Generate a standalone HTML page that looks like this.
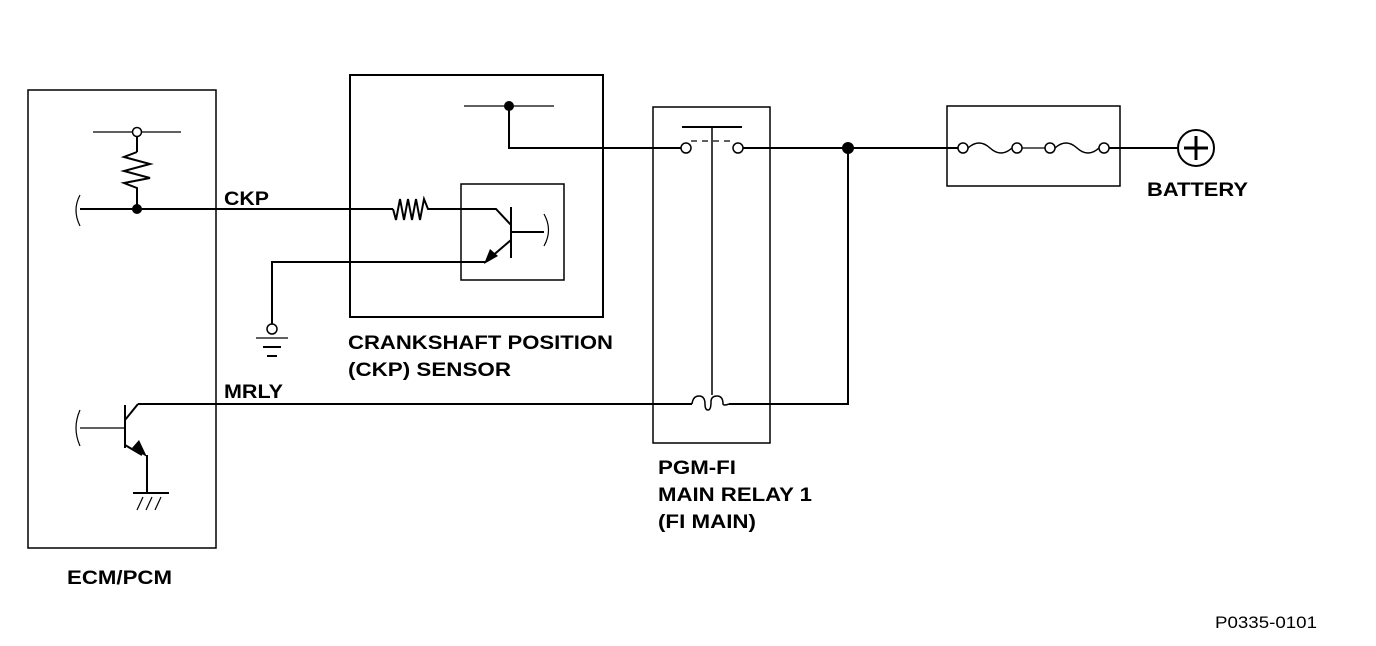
<!DOCTYPE html>
<html><head><style>html,body{margin:0;padding:0;background:#fff}svg{display:block}</style></head>
<body>
<svg width="1376" height="646" viewBox="0 0 1376 646" xmlns="http://www.w3.org/2000/svg" font-family="Liberation Sans, sans-serif">
<g fill="none" stroke="#000" stroke-width="2">
<!-- ECM box -->
<rect x="28" y="90" width="188" height="458" stroke-width="1.5"/>
<line x1="93" y1="132" x2="181" y2="132" stroke-width="1.2"/>
<line x1="137" y1="136" x2="137" y2="152"/>
<polyline points="137,152 124,157 150,164 124,171 150,178 124,183 137,188 137,209"/>
<path d="M80,195 Q72,210 80,226" stroke-width="1.2"/>
<line x1="80" y1="209" x2="393" y2="209"/>
<polyline points="393,209 396,220 400,199 404,220 408,199 412,220 416,199 420,220 424,199 428,209 496,209 511,225"/>
<line x1="511" y1="207" x2="511" y2="258"/>
<line x1="511" y1="232" x2="544" y2="232"/>
<path d="M544,214 Q553,230 544,246" stroke-width="1.2"/>
<line x1="511" y1="240" x2="490" y2="258"/>
<polyline points="486,262 272,262 272,324"/>
<circle cx="272" cy="329" r="5" stroke-width="1.5"/>
<line x1="256" y1="338" x2="288" y2="338" stroke-width="1.2"/>
<line x1="263" y1="347" x2="281" y2="347"/>
<line x1="267" y1="356" x2="277" y2="356"/>
<!-- sensor boxes -->
<rect x="350" y="75" width="253" height="242"/>
<rect x="461" y="184" width="103" height="96" stroke-width="1.5"/>
<line x1="464" y1="106" x2="554" y2="106" stroke-width="1.2"/>
<polyline points="509,106 509,148 681,148"/>
<!-- relay -->
<rect x="653" y="107" width="117" height="336" stroke-width="1.5"/>
<line x1="682" y1="127" x2="742" y2="127"/>
<line x1="712" y1="127" x2="712" y2="395" stroke-width="1.5"/>
<line x1="691" y1="141" x2="733" y2="141" stroke-width="1.2" stroke-dasharray="6,5"/>
<circle cx="686" cy="148" r="5" stroke-width="1.5"/>
<circle cx="738" cy="148" r="5" stroke-width="1.5"/>
<line x1="743" y1="148" x2="958" y2="148"/>
<polyline points="848,148 848,404 729,404"/>
<path d="M692,404 Q693,396 699,396 Q705,396 705,404 Q705,410 708,410 Q711,410 711,402 Q711,396 717,396 Q723,396 723,404 Q724,406 729,404" stroke-width="1.5"/>
<line x1="138" y1="404" x2="692" y2="404"/>
<!-- ECM transistor -->
<line x1="125" y1="405" x2="125" y2="448"/>
<line x1="125" y1="420" x2="138" y2="404"/>
<line x1="80" y1="428" x2="125" y2="428" stroke-width="1.2"/>
<path d="M80,410 Q72,428 80,446" stroke-width="1.2"/>
<line x1="125" y1="445" x2="142" y2="455"/>
<polyline points="147,455 147,493"/>
<line x1="133" y1="493" x2="169" y2="493"/>
<line x1="143" y1="497" x2="137" y2="510" stroke-width="1.2"/>
<line x1="152" y1="497" x2="146" y2="510" stroke-width="1.2"/>
<line x1="161" y1="497" x2="155" y2="510" stroke-width="1.2"/>
<!-- fuse -->
<rect x="947" y="106" width="173" height="80" stroke-width="1.5"/>
<circle cx="963" cy="148" r="5" stroke-width="1.5"/>
<circle cx="1017" cy="148" r="5" stroke-width="1.5"/>
<circle cx="1050" cy="148" r="5" stroke-width="1.5"/>
<circle cx="1104" cy="148" r="5" stroke-width="1.5"/>
<path d="M968,148 Q979,138 990,148 Q1001,158 1012,148" stroke-width="1.5"/>
<path d="M1055,148 Q1066,138 1077,148 Q1088,158 1099,148" stroke-width="1.5"/>
<line x1="1022" y1="148" x2="1045" y2="148" stroke-width="1.2"/>
<line x1="1109" y1="148" x2="1178" y2="148"/>
<circle cx="1196" cy="148" r="18"/>
<line x1="1184" y1="148" x2="1208" y2="148" stroke-width="3"/>
<line x1="1196" y1="136" x2="1196" y2="160" stroke-width="3"/>
</g>
<g fill="#000">
<circle cx="137" cy="209" r="5"/>
<circle cx="509" cy="106" r="5"/>
<circle cx="848" cy="148" r="6"/>
<circle cx="137" cy="132" r="4.5" fill="#fff" stroke="#000" stroke-width="1.5"/>
<polygon points="484,264 490,249 498,256"/>
<polygon points="147,457 132,448 139,440"/>
</g>
<g font-weight="bold" font-size="19" fill="#000">
<text x="224" y="205" textLength="45" lengthAdjust="spacingAndGlyphs">CKP</text>
<text x="224" y="398" textLength="59" lengthAdjust="spacingAndGlyphs">MRLY</text>
<text x="348" y="349" textLength="265" lengthAdjust="spacingAndGlyphs">CRANKSHAFT POSITION</text>
<text x="348" y="376" textLength="163" lengthAdjust="spacingAndGlyphs">(CKP) SENSOR</text>
<text x="658" y="474" textLength="78" lengthAdjust="spacingAndGlyphs">PGM-FI</text>
<text x="658" y="501" textLength="154" lengthAdjust="spacingAndGlyphs">MAIN RELAY 1</text>
<text x="658" y="528" textLength="98" lengthAdjust="spacingAndGlyphs">(FI MAIN)</text>
<text x="67" y="584" textLength="105" lengthAdjust="spacingAndGlyphs">ECM/PCM</text>
<text x="1147" y="196" textLength="101" lengthAdjust="spacingAndGlyphs">BATTERY</text>
</g>
<text x="1215" y="628" font-size="17" textLength="102" lengthAdjust="spacingAndGlyphs">P0335-0101</text>
</svg>
</body></html>
